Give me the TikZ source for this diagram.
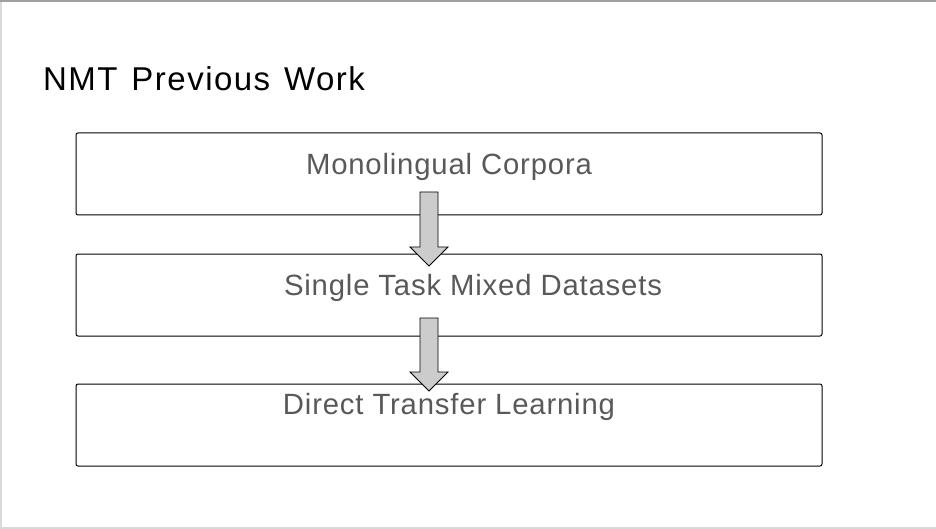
\documentclass[tikz,border=0pt]{standalone}
\usepackage{fontspec}
\setmainfont{Liberation Sans}
\newfontfamily\headingfont{Liberation Sans}[LetterSpace=4.5,WordSpace=1.3]
\newfontfamily\stagefont{Liberation Sans}[LetterSpace=2.8]
\usetikzlibrary{calc}
\definecolor{boxtext}{RGB}{89, 89, 89}
\definecolor{arrowgray}{RGB}{204, 204, 204}
\definecolor{frametop}{RGB}{160, 160, 160}
\definecolor{frameside}{RGB}{217, 217, 217}
\tikzstyle{stage} = [draw=black, line width=1pt, rounded corners=2pt,
    minimum width=746pt, minimum height=82pt, inner sep=0, outer sep=0]
\tikzstyle{stagetext} = [anchor=base, inner sep=0, text=boxtext,
    font=\stagefont\fontsize{29.3}{32}\selectfont]
\tikzstyle{heading} = [anchor=base west, inner sep=0, text=black,
    font=\headingfont\fontsize{33}{36}\selectfont]
\tikzstyle{blockarrow} = [draw=black, line width=0.8pt, fill=arrowgray, line join=miter]

\begin{document}
\begin{tikzpicture}[x=1pt, y=-1pt]
\useasboundingbox (0,0) rectangle (936,529);

% slide frame
\draw[frameside, line width=2pt] (1,2) -- (1,527.5) -- (936,527.5);
\draw[frametop, line width=2pt] (0,1) -- (936,1);

%%% TITLE
\node[heading] (title) at (43,90.7) {NMT Previous Work};

%%% STAGE 1
\node[stage] (corpora) at (449,174) {};
\node[stagetext] (corporatext) at (449,175) {Monolingual Corpora};

%%% STAGE 2
\node[stage] (mixed) at (449,295) {};
\node[stagetext] (mixedtext) at (473,295.7) {Single Task Mixed Datasets};

%%% STAGE 3
\node[stage] (transfer) at (449,425) {};
\node[stagetext] (transfertext) at (449,414.3) {Direct Transfer Learning};

% block arrows, drawn over the boxes
\coordinate (a1) at ($(corpora.south)+(-20,-23)$);
\draw[blockarrow] (a1) ++(-9,0) -- ++(0,55) -- ++(-10,0) -- ++(19,19)
    -- ++(19,-19) -- ++(-10,0) -- ++(0,-55) -- cycle;

\coordinate (a2) at ($(mixed.south)+(-20,-18)$);
\draw[blockarrow] (a2) ++(-9,0) -- ++(0,54) -- ++(-10,0) -- ++(19,19)
    -- ++(19,-19) -- ++(-10,0) -- ++(0,-54) -- cycle;

\end{tikzpicture}
\end{document}
